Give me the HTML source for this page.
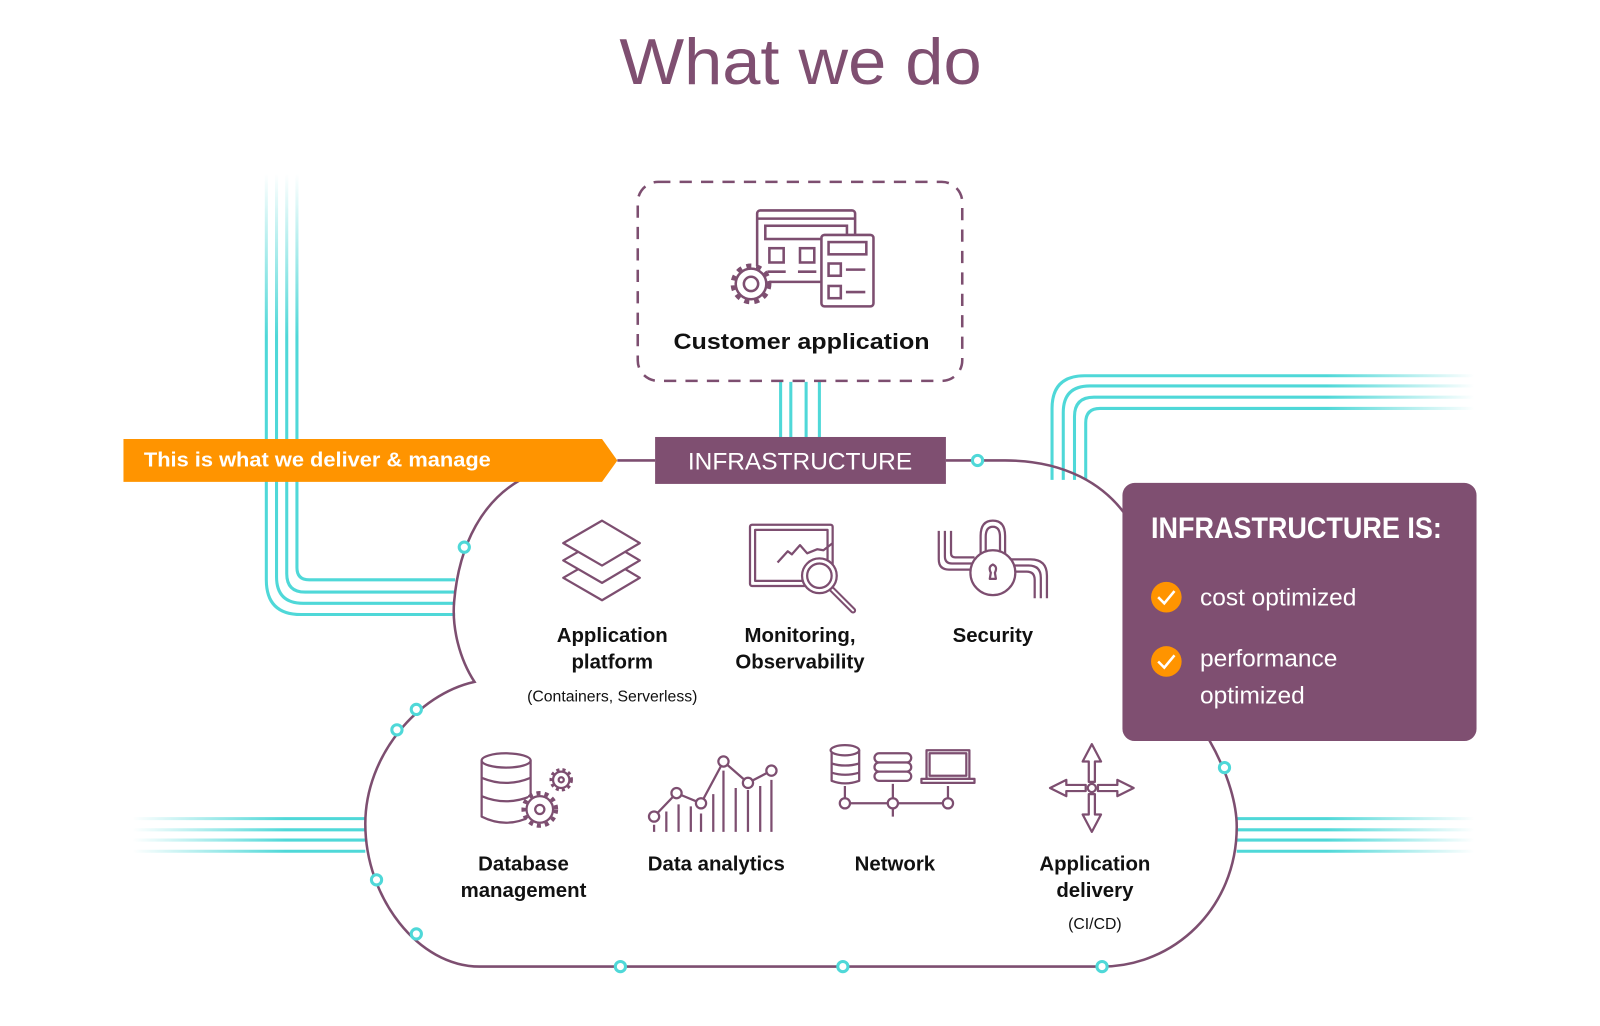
<!DOCTYPE html>
<html><head><meta charset="utf-8"><style>
html,body{margin:0;padding:0;background:#fff;}
svg{display:block;}
text{font-family:"Liberation Sans",sans-serif;}
</style></head><body>
<svg width="1600" height="1026" viewBox="0 0 1568 1005" xmlns="http://www.w3.org/2000/svg">
<defs>
<linearGradient id="fu" x1="0" y1="170" x2="0" y2="330" gradientUnits="userSpaceOnUse"><stop offset="0" stop-color="#4fd8d8" stop-opacity="0"/><stop offset="1" stop-color="#4fd8d8"/></linearGradient>
<linearGradient id="fr" x1="1300" y1="0" x2="1445" y2="0" gradientUnits="userSpaceOnUse"><stop offset="0" stop-color="#4fd8d8"/><stop offset="1" stop-color="#4fd8d8" stop-opacity="0"/></linearGradient>
<linearGradient id="fl" x1="130" y1="0" x2="280" y2="0" gradientUnits="userSpaceOnUse"><stop offset="0" stop-color="#4fd8d8" stop-opacity="0"/><stop offset="1" stop-color="#4fd8d8"/></linearGradient>
</defs>
<text x="607" y="82" font-size="64" fill="#7f4f71" textLength="355" lengthAdjust="spacingAndGlyphs">What we do</text>

<g fill="none" stroke="url(#fu)" stroke-width="3">
<path d="M261 170 V568 Q261 602 295 602 H446"/>
<path d="M271 170 V565 Q271 591 297 591 H446"/>
<path d="M281 170 V562 Q281 580 299 580 H446"/>
<path d="M291 170 V556 Q291 568 303 568 H446"/>
</g>
<g fill="none" stroke="url(#fr)" stroke-width="3">
<path d="M1031 470 V400 Q1031 368 1063 368 H1445"/>
<path d="M1042 470 V404 Q1042 378 1068 378 H1445"/>
<path d="M1053 470 V408 Q1053 389 1072 389 H1445"/>
<path d="M1064 470 V414 Q1064 400 1078 400 H1445"/>
</g>
<g stroke="url(#fl)" stroke-width="3"><path d="M130 802H358M130 813H358M130 823H358M130 834H358"/></g>
<g stroke="url(#fr)" stroke-width="3"><path d="M1212 802H1445M1212 813H1445M1212 823H1445M1212 834H1445"/></g>
<g stroke="#4fd8d8" stroke-width="3"><path d="M765 374V428M775 374V428M790 374V428M803 374V428"/></g>

<g fill="none" stroke="#7d4e70" stroke-width="2.5">
<path d="M605 451 H642"/>
<path d="M927 451 H985 C1040 451 1085 472 1110 515"/>
<path d="M1185 725 C1205 760 1212 790 1212 810 C1212 890 1150 947 1080 947 L470 947 C410 947 358 880 358 807 C358 740 410 680 465 668 C450 645 443 615 445 590 C450 530 475 490 510 470"/>
</g>
<g fill="#fff" stroke="#4fd8d8" stroke-width="3">
<circle cx="958" cy="451" r="5"/><circle cx="455" cy="536" r="5"/><circle cx="408" cy="695" r="5"/><circle cx="389" cy="715" r="5"/><circle cx="369" cy="862" r="5"/><circle cx="408" cy="915" r="5"/><circle cx="608" cy="947" r="5"/><circle cx="826" cy="947" r="5"/><circle cx="1080" cy="947" r="5"/><circle cx="1200" cy="752" r="5"/>
</g>

<rect x="625" y="178" width="318" height="195" rx="20" fill="none" stroke="#7d4e70" stroke-width="2.5" stroke-dasharray="12 9"/>
<g fill="none" stroke="#7d4e70" stroke-width="2.5">
<rect x="742" y="206" width="96" height="70" rx="3"/><path d="M742 214H838"/><rect x="750" y="221" width="80" height="13"/>
<rect x="754" y="243" width="14" height="14"/><rect x="784" y="243" width="14" height="14"/>
<path d="M752 266H770M782 266H800"/>
<rect x="805" y="230" width="51" height="70" rx="3" fill="#fff"/><rect x="812" y="237" width="37" height="12"/>
<rect x="812" y="258" width="12" height="12"/><path d="M829 264H848"/><rect x="812" y="280" width="12" height="12"/><path d="M829 286H848"/>
<circle cx="736" cy="278" r="18" fill="#fff" stroke-dasharray="5 5" stroke-width="4"/>
<circle cx="736" cy="278" r="15" fill="#fff"/><circle cx="736" cy="278" r="7"/>
</g>
<text x="660" y="342" font-size="22" font-weight="bold" fill="#111" textLength="251" lengthAdjust="spacingAndGlyphs">Customer application</text>

<path d="M121 430 H590 L605 451 L590 472 H121 Z" fill="#ff9400"/>
<text x="141" y="457" font-size="20" font-weight="bold" fill="#fff" textLength="340" lengthAdjust="spacingAndGlyphs">This is what we deliver &amp; manage</text>
<rect x="642" y="428" width="285" height="46" fill="#7f4f71"/>
<text x="784" y="460" text-anchor="middle" font-size="24" fill="#fff">INFRASTRUCTURE</text>

<g fill="#fff" stroke="#7d4e70" stroke-width="2.2" stroke-linejoin="round">
<path d="M552 566 L590 544 L627 566 L590 588 Z"/><path d="M552 549 L590 527 L627 549 L590 571 Z"/><path d="M552 532 L590 510 L627 532 L590 554 Z"/>
<rect x="735" y="514" width="81" height="60" rx="2"/><rect x="740" y="519" width="71" height="50" fill="none"/>
<path d="M762 551 L772 540 L776 543 L784 534 L791 542 L801 538 L807 539 L816 532" fill="none"/>
<path d="M814 576 L836 598" stroke-width="6" stroke-linecap="round"/><path d="M814 576 L836 598" stroke="#fff" stroke-width="2" stroke-linecap="round"/>
<circle cx="803" cy="564" r="17"/><circle cx="803" cy="564" r="12"/>
<path d="M920 520 V548 Q920 558 930 558 H955 M926 520 V545 Q926 552 933 552 H955 M932 520 V542 Q932 546 936 546 H955" fill="none"/>
<path d="M990 548 H1010 Q1026 548 1026 564 V586 M990 554 H1008 Q1020 554 1020 566 V586 M990 560 H1006 Q1014 560 1014 568 V586" fill="none"/>
<path d="M961 545 V525 Q961 510 973 510 Q985 510 985 525 V545 M966 545 V526 Q966 516 973 516 Q980 516 980 526 V545" fill="none"/>
<circle cx="973" cy="561" r="22"/><path d="M970 567 L971 561 Q968 555 973 553 Q978 555 975 561 L976 567 Z"/>
</g>
<g font-size="20" font-weight="bold" fill="#111" text-anchor="middle">
<text x="600" y="629">Application</text><text x="600" y="655">platform</text>
<text x="784" y="629">Monitoring,</text><text x="784" y="655">Observability</text>
<text x="973" y="629">Security</text>
<text x="513" y="853">Database</text><text x="513" y="879">management</text>
<text x="702" y="853">Data analytics</text>
<text x="877" y="853">Network</text>
<text x="1073" y="853">Application</text><text x="1073" y="879">delivery</text>
</g>
<text x="600" y="687" text-anchor="middle" font-size="15.5" fill="#111">(Containers, Serverless)</text>
<text x="1073" y="910" text-anchor="middle" font-size="15.5" fill="#111">(CI/CD)</text>

<g fill="#fff" stroke="#7d4e70" stroke-width="2.2" stroke-linejoin="round">
<path d="M472 745 V800 Q496 812 520 800 V745" /><ellipse cx="496" cy="745" rx="24" ry="7"/>
<path d="M472 762 Q496 772 520 762 M472 780 Q496 790 520 780" fill="none"/>
<circle cx="529" cy="793" r="16" stroke-width="4" stroke-dasharray="4 4"/><circle cx="529" cy="793" r="13"/><circle cx="529" cy="793" r="4.5"/>
<circle cx="550" cy="764" r="10" stroke-width="3" stroke-dasharray="3 3"/><circle cx="550" cy="764" r="8"/><circle cx="550" cy="764" r="2.5"/>
<path d="M641 808V815M653 795V815M665 788V815M677 790V815M687 797V815M699 778V815M709 755V815M721 772V815M733 774V815M745 770V815M756 764V815" fill="none"/>
<path d="M641 800 L663 777 L687 787 L709 746 L733 767 L756 755" fill="none"/>
<circle cx="641" cy="800" r="5"/><circle cx="663" cy="777" r="5"/><circle cx="687" cy="787" r="5"/><circle cx="709" cy="746" r="5"/><circle cx="733" cy="767" r="5"/><circle cx="756" cy="755" r="5"/>
<path d="M815 735 V765 Q828 770 842 765 V735"/><ellipse cx="828" cy="735" rx="14" ry="5"/><path d="M815 748 Q828 752 842 748 M815 757 Q828 761 842 757" fill="none"/>
<rect x="857" y="738" width="36" height="9" rx="4.5"/><rect x="857" y="747" width="36" height="9" rx="4.5"/><rect x="857" y="756" width="36" height="9" rx="4.5"/>
<rect x="908" y="735" width="42" height="28"/><rect x="911" y="738" width="36" height="22" fill="none"/><path d="M903 763 H955 V767 H903 Z"/>
<path d="M828 770V787M875 768V800M929 770V787M828 787H929" fill="none"/>
<circle cx="828" cy="787" r="5"/><circle cx="875" cy="787" r="5"/><circle cx="929" cy="787" r="5"/>
<path d="M1067 766 V746 H1061 L1070 729 L1079 746 H1073 V766 Z"/>
<path d="M1067 778 V798 H1061 L1070 815 L1079 798 H1073 V778 Z"/>
<path d="M1064 769 H1045 V764 L1029 772 L1045 780 V775 H1064 Z"/>
<path d="M1076 769 H1095 V764 L1111 772 L1095 780 V775 H1076 Z"/>
<circle cx="1070" cy="772" r="4"/>
</g>

<rect x="1100" y="473" width="347" height="253" rx="12" fill="#7f4f71"/>
<text x="1128" y="527" font-size="29" fill="#fff" font-weight="bold" textLength="285" lengthAdjust="spacingAndGlyphs">INFRASTRUCTURE IS:</text>
<circle cx="1143" cy="585" r="15" fill="#ff9400"/><path d="M1135 585 L1141 591 L1151 579" fill="none" stroke="#fff" stroke-width="2.5"/>
<circle cx="1143" cy="648" r="15" fill="#ff9400"/><path d="M1135 648 L1141 654 L1151 642" fill="none" stroke="#fff" stroke-width="2.5"/>
<g font-size="24" fill="#fff"><text x="1176" y="593">cost optimized</text><text x="1176" y="653">performance</text><text x="1176" y="689">optimized</text></g>
</svg>
</body></html>
